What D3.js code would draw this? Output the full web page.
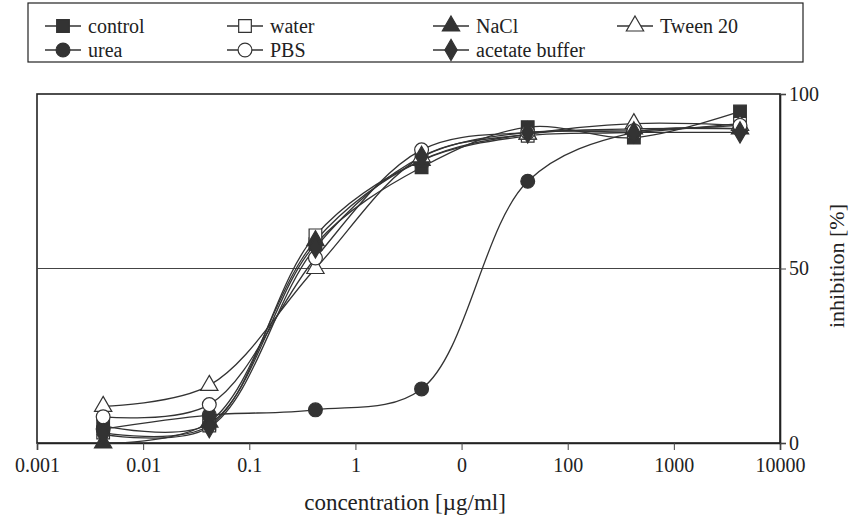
<!DOCTYPE html>
<html>
<head>
<meta charset="utf-8">
<script src="https://cdn.jsdelivr.net/npm/d3@7"></script>
<style>
  body { margin: 0; background: #fff; }
  svg text { font-family: "Liberation Serif", "Times New Roman", serif; fill: #222; }
</style>
</head>
<body>
<div class="graph_container"></div>
<script>
// data
const concentrations = [0.0042, 0.042, 0.42, 4.2, 42, 420, 4200];
const seriesNames = ["control", "water", "NaCl", "Tween 20", "urea", "PBS", "acetate buffer"];
const control = [5, 5.5, 57, 79, 90.5, 87.5, 95];
const water = [3, 5, 59.5, 81, 88, 89, 91.5];
const nacl = [0, 6, 58, 81, 88.5, 90, 90];
const tween = [10.5, 16.5, 50, 82, 88.5, 91.5, 91];
const urea = [4, 8, 9.5, 15.5, 75, 89, 90];
const pbs = [7.5, 11, 53, 84, 89, 89.5, 91];
const acetate = [2.5, 4.5, 56, 82, 89, 89, 89];
const xTickValues = [0.001, 0.01, 0.1, 1, 10, 100, 1000, 10000];
const xTickLabels = ["0.001", "0.01", "0.1", "1", "0", "100", "1000", "10000"];
const yTickValues = [0, 50, 100];

const allSeries = [control, water, nacl, tween, urea, pbs, acetate];
// marker: symbol type + filled?
const markers = [
    { sym: d3.symbolSquare, fill: true },
    { sym: d3.symbolSquare, fill: false },
    { sym: d3.symbolTriangle, fill: true },
    { sym: d3.symbolTriangle, fill: false },
    { sym: d3.symbolCircle, fill: true },
    { sym: d3.symbolCircle, fill: false },
    { sym: d3.symbolDiamond, fill: true }
];
const symSize = [160, 160, 130, 130, 150, 150, 130];
const ink = "#333";

const W = 851, H = 519;
const plot = { left: 37, right: 780, top: 94, bottom: 443 };

const svg = d3.select(".graph_container").append("svg").attr("width", W).attr("height", H);

const x = d3.scaleLog().domain([0.001, 10000]).range([plot.left, plot.right]);
const y = d3.scaleLinear().domain([0, 100]).range([plot.bottom, plot.top]);

// frame
svg.append("rect")
    .attr("x", plot.left).attr("y", plot.top)
    .attr("width", plot.right - plot.left).attr("height", plot.bottom - plot.top)
    .attr("fill", "none").attr("stroke", "#222").attr("stroke-width", 1.6);

// 50% line
svg.append("line")
    .attr("x1", plot.left).attr("x2", plot.right)
    .attr("y1", y(50)).attr("y2", y(50))
    .attr("stroke", "#444").attr("stroke-width", 1);

// x axis
const xAxis = d3.axisBottom(x).tickValues(xTickValues)
    .tickFormat((d, i) => xTickLabels[i]).tickSize(7).tickPadding(8);
const gx = svg.append("g").attr("transform", "translate(0," + plot.bottom + ")").call(xAxis);
gx.select(".domain").attr("stroke", "#222").attr("stroke-width", 1.6);
gx.selectAll(".tick line").attr("stroke", "#444");
gx.selectAll("text").attr("font-size", 20).attr("fill", "#222");

// y axis (right)
const yAxis = d3.axisRight(y).tickValues(yTickValues).tickSize(6).tickPadding(3);
const gy = svg.append("g").attr("transform", "translate(" + plot.right + ",0)").call(yAxis);
gy.select(".domain").attr("stroke", "#222").attr("stroke-width", 1.6);
gy.selectAll(".tick line").attr("stroke", "#444");
gy.selectAll("text").attr("font-size", 20).attr("fill", "#222");

// axis titles
svg.append("text").attr("x", 405).attr("y", 510).attr("text-anchor", "middle")
    .attr("font-size", 23).text("concentration [µg/ml]");
svg.append("text").attr("transform", "translate(844,266) rotate(-90)")
    .attr("text-anchor", "middle").attr("font-size", 22).text("inhibition [%]");

// lines
const line = d3.line()
    .x((d, i) => x(concentrations[i]))
    .y(d => y(d))
    .curve(d3.curveCatmullRom.alpha(0.5));

svg.append("g").selectAll("path").data(allSeries).join("path")
    .attr("d", d => line(d))
    .attr("fill", "none").attr("stroke", ink).attr("stroke-width", 1.3);

// markers
allSeries.forEach((s, k) => {
    const m = markers[k];
    svg.append("g").selectAll("path").data(s).join("path")
        .attr("transform", (d, i) => "translate(" + x(concentrations[i]) + "," + y(d) + ")")
        .attr("d", d3.symbol().type(m.sym).size(symSize[k]))
        .attr("fill", m.fill ? ink : "#fff")
        .attr("stroke", ink).attr("stroke-width", 1.2);
});

// legend
svg.append("rect").attr("x", 28).attr("y", 3).attr("width", 775).attr("height", 59)
    .attr("fill", "#fff").attr("stroke", "#222").attr("stroke-width", 1.2);

const legendX = [63, 245, 451, 635];
const legendY = [26, 50];
seriesNames.forEach((name, k) => {
    const cx = legendX[k % 4];
    const cy = legendY[Math.floor(k / 4)];
    const g = svg.append("g").attr("transform", "translate(" + cx + "," + cy + ")");
    g.append("line").attr("x1", -18).attr("x2", 18).attr("y1", 0).attr("y2", 0)
        .attr("stroke", ink).attr("stroke-width", 1.3);
    g.append("path")
        .attr("d", d3.symbol().type(markers[k].sym).size(symSize[k]))
        .attr("fill", markers[k].fill ? ink : "#fff")
        .attr("stroke", ink).attr("stroke-width", 1.2);
    g.append("text").attr("x", 25).attr("y", 0).attr("dy", "0.33em")
        .attr("font-size", 20).text(name);
});
</script>
</body>
</html>
